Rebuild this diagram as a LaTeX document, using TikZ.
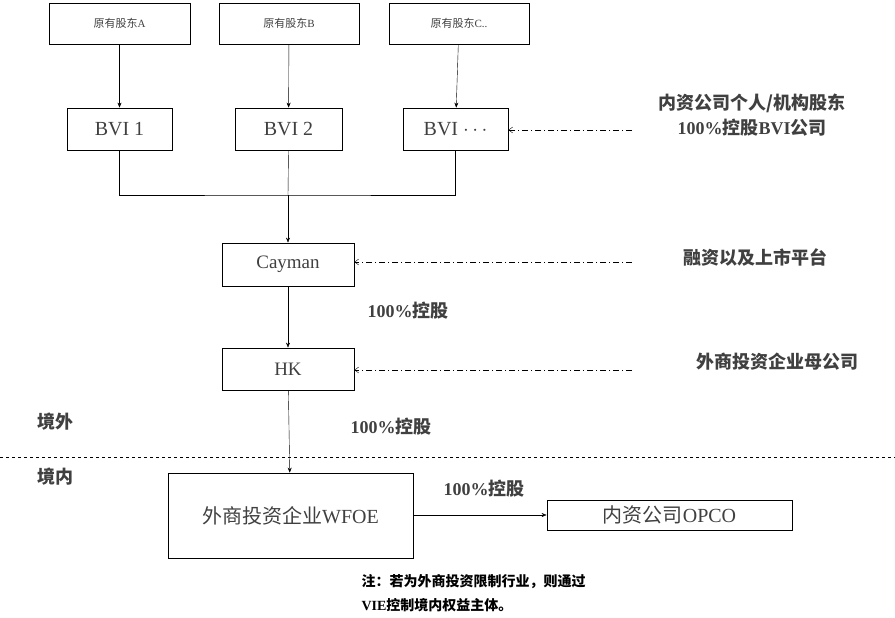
\documentclass[tikz,border=0pt]{standalone}
\usepackage{fontspec}
\setmainfont{Liberation Serif}
\newfontfamily\cjk{Noto Sans CJK SC}
\usetikzlibrary{arrows.meta}
\begin{document}
\begin{tikzpicture}[x=1pt,y=-1pt,
  box/.style={draw,thick,minimum height=#1,inner sep=0pt},
  lab/.style={text=black!75,font=\cjk\bfseries\fontsize{18}{20}\selectfont},
  arr/.style={-{Stealth[length=5pt,width=4pt]},thin},
  da/.style={-{Straight Barb[length=4pt,width=6pt]},thin,dash pattern=on 6pt off 3pt on 1pt off 3pt}]
\useasboundingbox (0,0) rectangle (895,618);
\tikzset{t/.style={text=black!75,font=\fontsize{#1}{#1}\selectfont}}
\node[box=41pt,minimum width=141pt,t=11] (a) at (119.5,23.5) {\cjk 原有股东\rmfamily A};
\node[box=41pt,minimum width=140pt,t=11] (b) at (289,23.5) {\cjk 原有股东\rmfamily B};
\node[box=41pt,minimum width=140pt,t=11] (c) at (459,23.5) {\cjk 原有股东\rmfamily C..};
\node[box=42pt,minimum width=105pt,t=20] (b1) at (119.5,129) {BVI 1};
\node[box=42pt,minimum width=107pt,t=20] (b2) at (288.5,129) {BVI 2};
\node[box=42pt,minimum width=105pt,t=20] (b3) at (455.5,129) {BVI $\cdots$};
\node[box=43pt,minimum width=132pt,t=19] (cay) at (288,264.5) {Cayman};
\node[box=42pt,minimum width=132pt,t=19] (hk) at (288,369) {HK};
\node[box=85pt,minimum width=245pt,t=20] (w) at (290.5,515.5) {\cjk 外商投资企业\rmfamily WFOE};
\node[box=30pt,minimum width=245pt,t=20] (op) at (669.5,515) {\cjk 内资公司\rmfamily OPCO};
\draw[arr] (a) -- (b1); \draw[arr] (b) -- (b2); \draw[arr] (c) -- (b3);
\coordinate (j) at (288,195);
\draw[thin] (b1.south) |- (j) -| (b3.south); \draw[thin] (b2.south) -- (j);
\draw[arr] (j) -- (cay);
\draw[arr] (cay) -- (hk); \draw[arr] (hk) -- (w); \draw[arr] (w.east|-op) -- (op);
\coordinate (s1) at (632,130); \coordinate (s2) at (632,262); \coordinate (s3) at (632,370);
\draw[da] (s1) -- (b3.east|-s1); \draw[da] (s2) -- (cay.east|-s2); \draw[da] (s3) -- (hk.east|-s3);
\draw[thin,dash pattern=on 3pt off 3pt] (0,457) -- (895,457);
\node[lab] (l1) at (752,103) {内资公司个人/机构股东};
\node[lab] (l2) at (752,128) {\rmfamily 100\%\cjk 控股\rmfamily BVI\cjk 公司};
\node[lab] (l3) at (755,257) {融资以及上市平台};
\node[lab] (l4) at (777,362) {外商投资企业母公司};
\node[lab] (p1) at (408,311) {\rmfamily 100\%\cjk 控股};
\node[lab] (p2) at (391,427) {\rmfamily 100\%\cjk 控股};
\node[lab] (p3) at (484,489) {\rmfamily 100\%\cjk 控股};
\node[lab] (o) at (55,422) {境外};
\node[lab] (i) at (55,477) {境内};
\node[anchor=west,font=\cjk\bfseries\fontsize{14}{16}\selectfont] (n1) at (358,582) {注：若为外商投资限制行业，则通过};
\node[anchor=west,font=\cjk\bfseries\fontsize{14}{16}\selectfont] (n2) at (358,605) {\rmfamily VIE\cjk 控制境内权益主体。};
\end{tikzpicture}
\end{document}
